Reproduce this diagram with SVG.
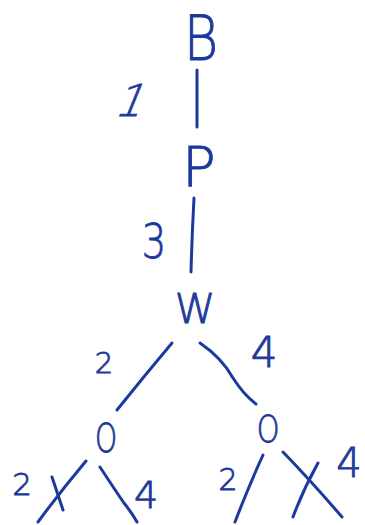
<svg xmlns="http://www.w3.org/2000/svg" width="365" height="525" viewBox="0 0 365 525">
  <defs>
    <style>
      .ink { fill: #1c3a9c; stroke: #1c3a9c; stroke-width: 0.9; font-family: "DejaVu Sans", "Liberation Sans", sans-serif; font-weight: 200; text-anchor: middle; }
      .edge { fill: none; stroke: #1c3a9c; stroke-width: 3; stroke-linecap: round; stroke-linejoin: round; }
    </style>
  </defs>
  <rect width="365" height="525" fill="#ffffff"/>

  <!-- tree nodes -->
  <g id="node-B"><text class="ink" transform="translate(201 60) scale(0.85 1)" font-size="62">B</text></g>
  <g id="node-P"><text class="ink" x="199" y="186" font-size="56">P</text></g>
  <g id="node-W"><text class="ink" x="195" y="323" font-size="41">W</text></g>
  <g id="node-O-left"><text class="ink" transform="translate(106 452) scale(0.72 1)" font-size="39">O</text></g>
  <g id="node-O-right"><text class="ink" transform="translate(268 442) scale(0.78 1)" font-size="37">O</text></g>

  <!-- branches with cut marks -->
  <g id="connectors">
    <path class="edge" d="M197 70 L197 127"/>
    <path class="edge" d="M194 198 Q192 235 191 272"/>
    <path class="edge" d="M172 343 Q145 375 117 410"/>
    <path class="edge" d="M200 343 Q222 358 233 378 Q244 395 256 404"/>
    <path class="edge" d="M86 461 Q60 492 38 522"/>
    <path class="edge" d="M52 477 Q58 495 63 510"/>
    <path class="edge" d="M100 467 Q115 490 124 503 Q132 513 137 522"/>
    <path class="edge" d="M263 455 Q248 488 235 522"/>
    <path class="edge" d="M283 452 Q312 482 342 517"/>
    <path class="edge" d="M318 463 Q303 490 293 517"/>
  </g>

  <!-- branch weights -->
  <g id="labels">
    <text class="ink" transform="translate(127 116) skewX(-22)" font-size="44">1</text>
    <text class="ink" transform="translate(154 258) scale(0.8 1)" font-size="48">3</text>
    <text class="ink" x="104" y="373" font-size="29">2</text>
    <text class="ink" x="264" y="367" font-size="42">4</text>
    <text class="ink" x="22" y="495" font-size="31">2</text>
    <text class="ink" x="146" y="508" font-size="38">4</text>
    <text class="ink" x="228" y="490" font-size="30">2</text>
    <text class="ink" x="349" y="477" font-size="40">4</text>
  </g>
</svg>
